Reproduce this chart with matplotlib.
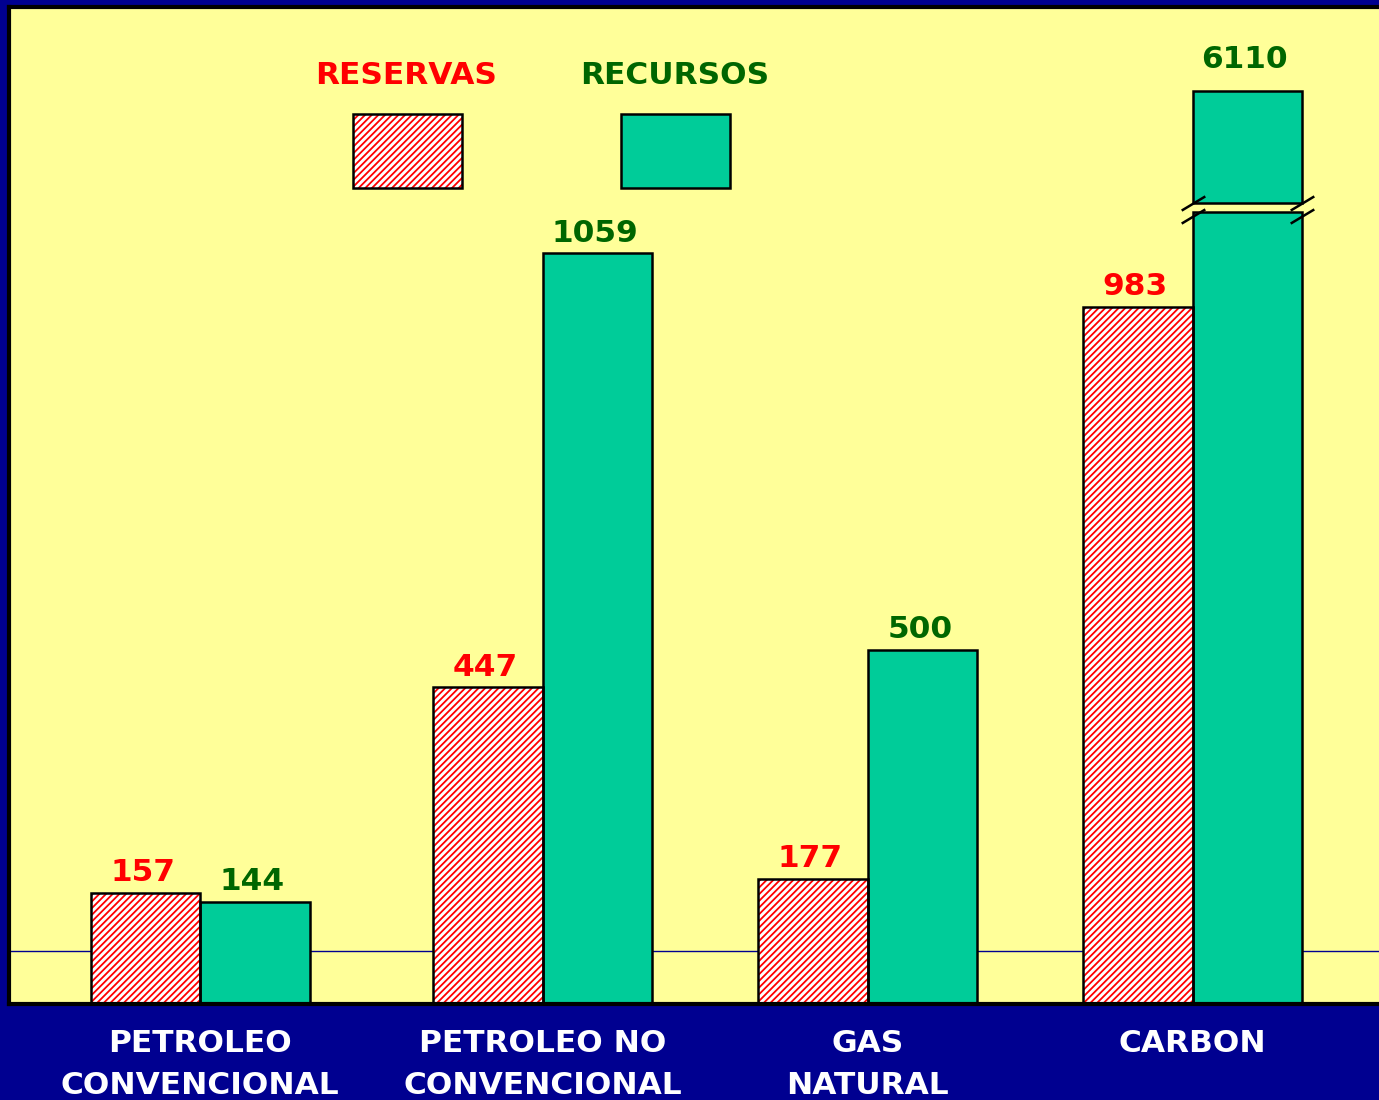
import numpy as np
import matplotlib
matplotlib.use("Agg")
import matplotlib.pyplot as plt
from matplotlib.patches import Rectangle
from matplotlib.transforms import Affine2D

# data
categorias = ["PETROLEO\nCONVENCIONAL", "PETROLEO NO\nCONVENCIONAL", "GAS\nNATURAL", "CARBON"]
reservas = [157, 447, 177, 983]
recursos = [144, 1059, 500, 6110]

# broken axis for the big CARBON bar
corte_inf = 1117   # where the bar is cut
corte_sup = 1130   # where it resumes
tope_roto = 1288   # drawn height of a broken bar
linea_ref = 75     # thin reference line

AMARILLO = "#FFFF99"
AZUL = "#000090"
VERDE = "#00CC99"
ROJO = "#FF0000"
VERDE_TXT = "#006600"
FS = 22.5
HATCH = "/////"

plt.rcParams["font.family"] = "DejaVu Sans"
plt.rcParams["hatch.linewidth"] = 1.3

W, H = 1379, 1100
fig = plt.figure(figsize=(W / 100, H / 100), dpi=100, facecolor=AZUL)
ax = fig.add_axes([9 / W, 96 / H, (W - 9) / W, 997.5 / H])
ax.set_facecolor(AMARILLO)

# group centres (the first gap on the slide is a bit wider)
x = np.array([0.0, 1.055, 2.055, 3.055])
ancho = 0.337
ax.set_xlim(-0.588, 3.628)
ax.set_ylim(0, 997.5 / 0.709)

ax.axhline(linea_ref, color=AZUL, lw=1, zorder=0.5)

# reservas: red hatch on white, black outline drawn on top
ax.bar(x - ancho / 2, reservas, width=ancho, facecolor="white", hatch=HATCH,
       edgecolor=ROJO, linewidth=0, zorder=2)
ax.bar(x - ancho / 2, reservas, width=ancho, fill=False, edgecolor="black",
       linewidth=1.8, zorder=2.5)
for xi, v in zip(x, reservas):
    ax.annotate(str(v), (xi - ancho / 2, v), xytext=(-2, 4), textcoords="offset points",
                ha="center", va="bottom", color=ROJO, fontsize=FS, fontweight="bold")

# recursos: green, broken if too tall
for xi, v in zip(x, recursos):
    xc = xi + ancho / 2
    dy = 4
    if v > tope_roto:
        ax.bar(xc, corte_inf, width=ancho, color=VERDE, edgecolor="black", linewidth=1.8, zorder=2)
        ax.bar(xc, tope_roto - corte_sup, bottom=corte_sup, width=ancho, color=VERDE,
               edgecolor="black", linewidth=1.8, zorder=2)
        marca = [(-1, -0.6), (1, 0.6)]
        for yy in (corte_sup, corte_inf - 6):
            ax.plot([xc - ancho / 2, xc + ancho / 2], [yy, yy], linestyle="none",
                    marker=marca, markersize=17, markeredgewidth=1.8, color="black",
                    zorder=3, clip_on=False)
        top = tope_roto
        dy = 12
    else:
        ax.bar(xc, v, width=ancho, color=VERDE, edgecolor="black", linewidth=1.8, zorder=2)
        top = v
    ax.annotate(str(v), (xc, top), xytext=(-2, dy), textcoords="offset points",
                ha="center", va="bottom", color=VERDE_TXT, fontsize=FS, fontweight="bold")

ax.set_xticks(x, categorias)
ax.set_yticks([])
ax.tick_params(axis="x", length=0, pad=18, labelcolor="white", labelsize=FS)
for lab in ax.get_xticklabels():
    lab.set_fontweight("bold")
    lab.set_linespacing(1.55)

for s in ("left", "bottom", "top"):
    ax.spines[s].set_linewidth(3)
    ax.spines[s].set_color("black")
ax.spines["right"].set_visible(False)

# legend drawn as on the slide (pixel coords, origin top-left)
px = Affine2D().scale(1 / W, -1 / H).translate(0, 1) + fig.transFigure
fig.patches.append(Rectangle((353, 114), 109, 74, transform=px, facecolor="white",
                             hatch=HATCH, edgecolor=ROJO, linewidth=0))
fig.patches.append(Rectangle((353, 114), 109, 74, transform=px, fill=False,
                             edgecolor="black", linewidth=1.8))
fig.patches.append(Rectangle((621, 114), 109, 74, transform=px, facecolor=VERDE,
                             edgecolor="black", linewidth=1.8))
fig.text(406, 75, "RESERVAS", transform=px, ha="center", va="center",
         color=ROJO, fontsize=FS, fontweight="bold")
fig.text(675, 75, "RECURSOS", transform=px, ha="center", va="center",
         color=VERDE_TXT, fontsize=FS, fontweight="bold")

fig.savefig("out.png", dpi=100, facecolor=AZUL)
